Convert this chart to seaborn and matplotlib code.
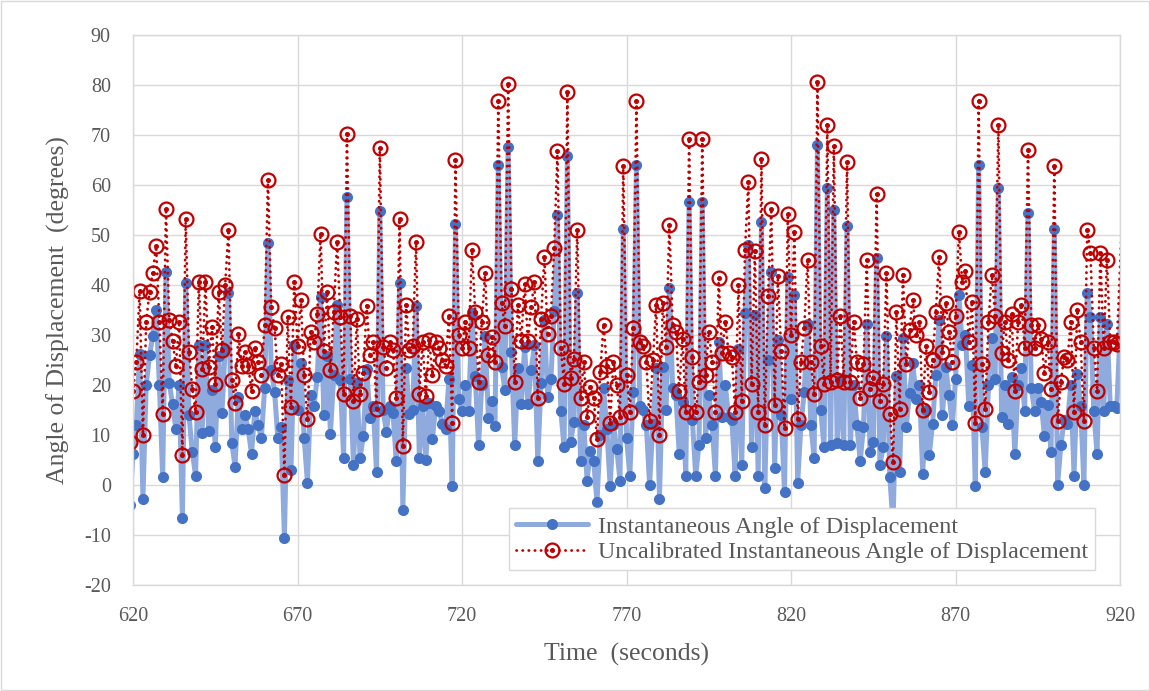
import pandas as pd
import seaborn as sns
import matplotlib
matplotlib.use('Agg')
import matplotlib.pyplot as plt
from matplotlib.patches import Rectangle

sns.set_theme(style='white')
plt.rcParams['font.family'] = ['Liberation Serif', 'DejaVu Serif']
plt.rcParams['axes.unicode_minus'] = False

# time in seconds, one sample per second; the first and the last samples lie
# outside the axis range, only the line running towards them is visible
time_s = list(range(619, 920)) + [923]

# calibrated angle (degrees)
angle = [
    -4, 6.2, 12, 26.2, -2.7, 20, 26, 29.8, 35.1, 20,
    1.6, 42.6, 20.4, 16.2, 11.2, 20, -6.6, 40.5, 14, 6.6,
    1.9, 28, 10.5, 28, 10.9, 19, 7.6, 25.9, 14.4, 27.3,
    38.4, 8.4, 3.7, 17.6, 11.2, 14, 11.2, 6.2, 14.8, 12,
    9.4, 19.4, 48.4, 23, 18.7, 9.4, 11.6, -10.6, 21, 3,
    28, 15.1, 24.4, 9.4, 0.5, 18, 15.9, 21.6, 37.6, 14.1,
    25.9, 10.3, 22, 36, 21, 5.5, 57.6, 21.2, 4.1, 20.5,
    5.5, 9.8, 23.2, 13.4, 15.9, 2.6, 54.8, 15, 10.7, 15.9,
    14.4, 4.8, 40.5, -4.9, 23.4, 14.3, 15.1, 35.9, 5.5, 15.9,
    5.1, 16.4, 9.3, 15.9, 14.8, 12.3, 11.2, 21.2, -0.2, 52.3,
    17.3, 14.8, 20, 14.8, 34.4, 21.9, 8, 20, 29.8, 13.4,
    16.9, 11.9, 64.1, 23.7, 19.1, 67.6, 26.6, 8, 23.4, 16.2,
    27.6, 16.2, 23, 28, 4.8, 20.5, 33, 17.6, 21.2, 34.8,
    54.1, 14.8, 7.6, 65.9, 8.7, 12.6, 38.4, 4.8, 12, 0.9,
    6.9, 4.8, -3.4, 10, 19.4, 11.2, -0.2, 12, 7.3, 0.9,
    51.2, 9.4, 1.9, 18.7, 64.1, 15.9, 15.1, 12, 0.1, 12.3,
    23.4, -2.7, 23.7, 15, 39.4, 19.4, 18, 6.2, 16.6, 1.9,
    56.6, 13, 1.9, 8, 56.6, 9.4, 18, 12, 1.9, 28.7,
    13.7, 20, 13.7, 13, 1.9, 27.3, 4.1, 34.4, 48, 7.6,
    34.1, 1.9, 52.6, -0.6, 25.1, 42.6, 3.4, 29.1, 14.1, -1.3,
    41.6, 17.3, 38, 0.5, 12, 18.7, 32.3, 12, 5.5, 68,
    15.1, 7.6, 59.4, 8, 55.1, 8.4, 21.2, 8, 51.9, 8,
    20, 12, 4.8, 11.6, 32.3, 6.6, 8.7, 45.5, 4.1, 7.6,
    29.8, 1.6, -8, 21.9, 2.6, 29.4, 11.6, 18.4, 24.4, 17.3,
    20, 2.3, 15.1, 6, 12.3, 22, 33, 14, 23.7, 18,
    12, 21.2, 38, 28, 30.1, 15.9, 24, -0.2, 64.1, 11.6,
    2.6, 20, 29.4, 21.2, 59.4, 13.7, 20, 12.3, 21.6, 6.2,
    20, 23.4, 14.8, 54.4, 19.4, 14.8, 19.4, 16.6, 9.8, 16,
    6.6, 51.2, 0.1, 8, 13, 12.3, 20, 1.9, 22.3, 15.9,
    0.1, 38.4, 33.7, 14.8, 6.2, 33.7, 14.8, 32.3, 15.9, 15.9,
    15.5, 77.5,
]

# uncalibrated angle (degrees)
angle_uncal = [
    8.7, 18.9, 24.7, 38.9, 10.0, 32.7, 38.7, 42.5, 47.8, 32.7,
    14.3, 55.3, 33.1, 28.9, 23.9, 32.7, 6.1, 53.2, 26.7, 19.3,
    14.6, 40.7, 23.2, 40.7, 23.6, 31.7, 20.3, 38.6, 27.1, 40.0,
    51.1, 21.1, 16.4, 30.3, 23.9, 26.7, 23.9, 18.9, 27.5, 24.7,
    22.1, 32.1, 61.1, 35.7, 31.4, 22.1, 24.3, 2.1, 33.7, 15.7,
    40.7, 27.8, 37.1, 22.1, 13.2, 30.7, 28.6, 34.3, 50.3, 26.8,
    38.6, 23.0, 34.7, 48.7, 33.7, 18.2, 70.3, 33.9, 16.8, 33.2,
    18.2, 22.5, 35.9, 26.1, 28.6, 15.3, 67.5, 27.7, 23.4, 28.6,
    27.1, 17.5, 53.2, 7.8, 36.1, 27.0, 27.8, 48.6, 18.2, 28.6,
    17.8, 29.1, 22.0, 28.6, 27.5, 25.0, 23.9, 33.9, 12.5, 65.0,
    30.0, 27.5, 32.7, 27.5, 47.1, 34.6, 20.7, 32.7, 42.5, 26.1,
    29.6, 24.6, 76.8, 36.4, 31.8, 80.3, 39.3, 20.7, 36.1, 28.9,
    40.3, 28.9, 35.7, 40.7, 17.5, 33.2, 45.7, 30.3, 33.9, 47.5,
    66.8, 27.5, 20.3, 78.6, 21.4, 25.3, 51.1, 17.5, 24.7, 13.6,
    19.6, 17.5, 9.3, 22.7, 32.1, 23.9, 12.5, 24.7, 20.0, 13.6,
    63.9, 22.1, 14.6, 31.4, 76.8, 28.6, 27.8, 24.7, 12.8, 25.0,
    36.1, 10.0, 36.4, 27.7, 52.1, 32.1, 30.7, 18.9, 29.3, 14.6,
    69.3, 25.7, 14.6, 20.7, 69.3, 22.1, 30.7, 24.7, 14.6, 41.4,
    26.4, 32.7, 26.4, 25.7, 14.6, 40.0, 16.8, 47.1, 60.7, 20.3,
    46.8, 14.6, 65.3, 12.1, 37.8, 55.3, 16.1, 41.8, 26.8, 11.4,
    54.3, 30.0, 50.7, 13.2, 24.7, 31.4, 45.0, 24.7, 18.2, 80.7,
    27.8, 20.3, 72.1, 20.7, 67.8, 21.1, 33.9, 20.7, 64.6, 20.7,
    32.7, 24.7, 17.5, 24.3, 45.0, 19.3, 21.4, 58.2, 16.8, 20.3,
    42.5, 14.3, 4.7, 34.6, 15.3, 42.1, 24.3, 31.1, 37.1, 30.0,
    32.7, 15.0, 27.8, 18.7, 25.0, 34.7, 45.7, 26.7, 36.4, 30.7,
    24.7, 33.9, 50.7, 40.7, 42.8, 28.6, 36.7, 12.5, 76.8, 24.3,
    15.3, 32.7, 42.1, 33.9, 72.1, 26.4, 32.7, 25.0, 34.3, 18.9,
    32.7, 36.1, 27.5, 67.1, 32.1, 27.5, 32.1, 29.3, 22.5, 28.7,
    19.3, 63.9, 12.8, 20.7, 25.7, 25.0, 32.7, 14.6, 35.0, 28.6,
    12.8, 51.1, 46.4, 27.5, 18.9, 46.4, 27.5, 45.0, 28.6, 28.6,
    28.2, 91.4,
]

x_ticks = [620, 670, 720, 770, 820, 870, 920]
y_ticks = [-20, -10, 0, 10, 20, 30, 40, 50, 60, 70, 80, 90]

df = pd.DataFrame({'time': time_s, 'angle': angle, 'uncal': angle_uncal})

grey = '#595959'
fig = plt.figure(figsize=(11.5, 6.91), dpi=100)
ax = fig.add_axes([0.1157, 0.1534, 0.8583, 0.7959])

sns.lineplot(data=df, x='time', y='angle', ax=ax, estimator=None, sort=False,
             color='#8faadc', linewidth=3.6, solid_joinstyle='round',
             marker='o', markersize=8, markerfacecolor='#4472c4',
             markeredgecolor='#4472c4', markeredgewidth=0)
sns.lineplot(data=df, x='time', y='uncal', ax=ax, estimator=None, sort=False,
             color='#c00000', linewidth=2.0, linestyle=(0, (0.1, 2.1)),
             dash_capstyle='round', marker='o', markersize=10,
             markerfacecolor='none', markeredgecolor='#c00000',
             markeredgewidth=1.6)
ax.plot(df['time'], df['uncal'], linestyle='none', marker='o',
        markersize=2.6, color='#c00000')

ax.set_xlim(620, 920)
ax.set_ylim(-20, 90)
ax.set_xticks(x_ticks)
ax.set_yticks(y_ticks)
ax.grid(True, color='#d9d9d9', linewidth=1.0)
ax.set_axisbelow(True)
for sp in ax.spines.values():
    sp.set_color('#d9d9d9')
    sp.set_linewidth(1.0)
ax.tick_params(length=0, labelsize=14.5, labelcolor=grey, pad=16)

ax.set_xlabel('Time  (seconds)', fontsize=18.5, color=grey, labelpad=12)
ax.set_ylabel('Angle of Displacement  (degrees)', fontsize=18.5, color=grey, labelpad=10)

lines = ax.get_lines()
handles = [lines[0], (lines[1], lines[2])]
labels = ['Instantaneous Angle of Displacement',
          'Uncalibrated Instantaneous Angle of Displacement']
leg = ax.legend(handles, labels, loc='lower right', bbox_to_anchor=(0.9747, 0.027),
                borderaxespad=0, fontsize=17.3, frameon=True, fancybox=False,
                framealpha=1, edgecolor='#d9d9d9', handlelength=3.0,
                labelspacing=0.15, borderpad=0.3, handletextpad=0.4)
for t in leg.get_texts():
    t.set_color(grey)

fig.patches.append(Rectangle((0.001, 0.001), 0.998, 0.998, transform=fig.transFigure,
                             fill=False, edgecolor='#d9d9d9', linewidth=1))

fig.savefig('out.png', dpi=100)
